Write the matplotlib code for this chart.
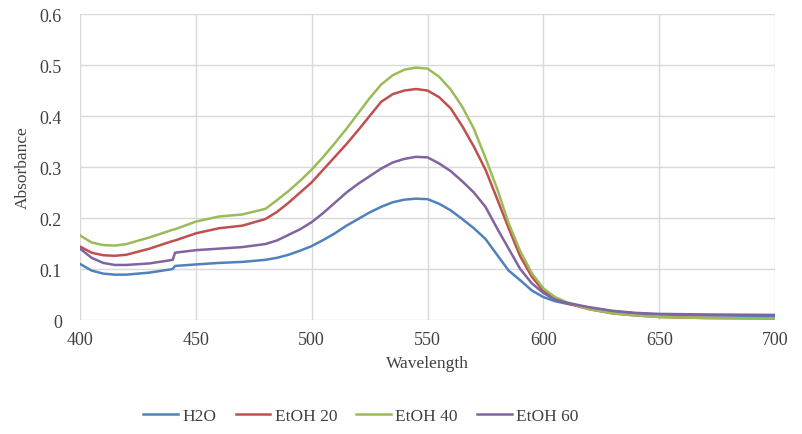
import numpy as np
import matplotlib.pyplot as plt

# wavelength grid (nm)
wl = [400, 405, 410, 415, 420, 430, 440, 441, 450, 460, 470, 480, 485, 490,
      495, 500, 505, 510, 515, 520, 525, 530, 535, 540, 545, 550, 555, 560,
      565, 570, 575, 580, 585, 590, 595, 600, 605, 610, 620, 630, 640, 650,
      670, 700]

h2o = [0.110, 0.097, 0.091, 0.089, 0.089, 0.093, 0.100, 0.106, 0.109, 0.112,
       0.114, 0.118, 0.122, 0.128, 0.136, 0.145, 0.157, 0.170, 0.185, 0.198,
       0.211, 0.222, 0.231, 0.236, 0.238, 0.237, 0.228, 0.215, 0.198, 0.180,
       0.159, 0.128, 0.097, 0.078, 0.058, 0.045, 0.037, 0.032, 0.024, 0.017,
       0.013, 0.011, 0.009, 0.008]

etoh20 = [0.144, 0.132, 0.127, 0.126, 0.128, 0.140, 0.155, 0.156, 0.170, 0.180,
          0.185, 0.198, 0.212, 0.230, 0.250, 0.270, 0.295, 0.320, 0.345, 0.372,
          0.400, 0.428, 0.443, 0.450, 0.453, 0.450, 0.437, 0.415, 0.380, 0.340,
          0.295, 0.238, 0.180, 0.125, 0.085, 0.057, 0.042, 0.033, 0.021, 0.013,
          0.009, 0.006, 0.004, 0.003]

etoh40 = [0.166, 0.152, 0.147, 0.146, 0.149, 0.162, 0.177, 0.178, 0.193, 0.203,
          0.207, 0.218, 0.235, 0.253, 0.273, 0.295, 0.320, 0.347, 0.375, 0.405,
          0.435, 0.462, 0.480, 0.491, 0.495, 0.493, 0.477, 0.452, 0.418, 0.375,
          0.318, 0.258, 0.190, 0.135, 0.092, 0.062, 0.045, 0.035, 0.021, 0.013,
          0.009, 0.006, 0.004, 0.003]

etoh60 = [0.140, 0.122, 0.112, 0.108, 0.108, 0.111, 0.118, 0.132, 0.137, 0.140,
          0.143, 0.149, 0.156, 0.167, 0.178, 0.192, 0.210, 0.230, 0.250, 0.267,
          0.282, 0.297, 0.309, 0.316, 0.320, 0.319, 0.307, 0.292, 0.272, 0.250,
          0.222, 0.180, 0.140, 0.100, 0.072, 0.053, 0.040, 0.034, 0.025, 0.018,
          0.014, 0.012, 0.011, 0.010]

series = [("H2O", h2o, "#4F81BD"),
          ("EtOH 20", etoh20, "#C0504D"),
          ("EtOH 40", etoh40, "#9BBB59"),
          ("EtOH 60", etoh60, "#8064A2")]

plt.rcParams['font.family'] = ['Liberation Serif', 'DejaVu Serif']

fig = plt.figure(figsize=(8.02, 4.35), dpi=100)
ax = fig.add_axes([0.0998, 0.262, 0.8666, 0.7034])

for name, vals, col in series:
    ax.plot(wl, vals, color=col, lw=1.8, label=name)

ax.set_xlim(400, 700)
ax.set_ylim(0, 0.6)
ax.set_xticks(np.arange(400, 701, 50))
ax.set_yticks(np.arange(0, 0.61, 0.1))
ax.set_yticklabels(["0", "0.1", "0.2", "0.3", "0.4", "0.5", "0.6"])
ax.grid(True, color="#D9D9D9", lw=1)
ax.set_axisbelow(True)
for s in ax.spines.values():
    s.set_visible(False)
ax.tick_params(length=0, labelsize=13, colors="#404040")
ax.tick_params(axis="y", pad=13)
ax.tick_params(axis="x", pad=8)

ax.set_xlabel("Wavelength", fontsize=12.5, color="#404040", labelpad=5)
ax.set_ylabel("Absorbance", fontsize=12.5, color="#404040", labelpad=6)

fig.legend(loc="center", bbox_to_anchor=(0.45, 0.041), ncol=4, frameon=False,
           fontsize=12.5, handlelength=2.0, handletextpad=0.25, columnspacing=1.1,
           labelcolor="#404040")

fig.savefig("out.png", dpi=100)
